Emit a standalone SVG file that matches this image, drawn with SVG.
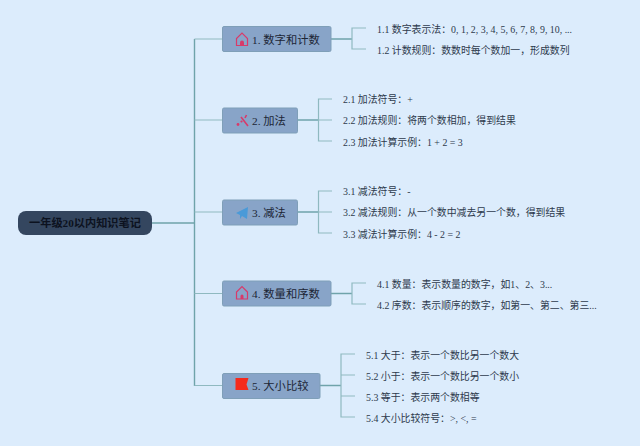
<svg xmlns="http://www.w3.org/2000/svg" width="640" height="446" viewBox="0 0 640 446">
<style>
text{font-family:"Liberation Serif","Noto Sans CJK SC",serif;fill:#2e3a4c;font-size:9.9px}
.m{font-size:11.300px;fill:#1c2636}
.r{font-size:11.200px;fill:#0c1220;font-weight:bold}
.n{fill:#88a4c8;stroke:#7f9fb8;stroke-width:1}
.c{fill:none;stroke:#8fb9c0;stroke-width:1.2}
.d{fill:none;stroke:#6fa3aa;stroke-width:1.4}
</style>
<rect width="640" height="446" fill="#dcecfc"/>
<g id="connectors">
<path class="d" d="M152 223H194.500"/>
<path class="d" d="M194.500 39V386"/>
<path class="c" d="M194.500 39H222M194.500 120H222M194.500 212H222M194.500 293.500H222M194.500 385.500H222"/>
<path class="d" d="M331 39H352M297 120H318.500M297 212H318.500M331 293.500H352M320 385.500H341"/>
<path class="c" d="M366 28H352V49H366"/>
<path class="c" d="M332 99H318.500V141H332M318.500 120H332"/>
<path class="c" d="M332 191H318.500V233H332M318.500 212H332"/>
<path class="c" d="M366 283H352V304H366"/>
<path class="c" d="M355 354H341V417H355M341 375H355M341 396H355"/>
</g>
<g id="root"><rect x="18" y="211" width="134" height="24" rx="8" fill="#34465f"/><text class="r" x="29" y="227">一年级20以内知识笔记</text></g>
<g id="node1"><rect class="n" x="222.500" y="26.500" width="108.500" height="25" rx="1.500"/>
<path d="M236.500 45.500V38.500L242 33L247.500 38.500V45.500H236.500Z" fill="none" stroke="#d83a6a" stroke-width="1.200"/><path d="M240 45.500V42.500A2 2 0 0 1 244 42.500V45.500Z" fill="#d83a6a"/>
<text class="m" x="252" y="44">1. 数字和计数</text></g>
<g id="node2"><rect class="n" x="222.500" y="108" width="75" height="25" rx="1.500"/>
<path d="M241 117L248 126M246.500 115L245 118" fill="none" stroke="#d83a6a" stroke-width="1.600"/><circle cx="238" cy="124.500" r="1.400" fill="#d83a6a"/><circle cx="241.500" cy="121.500" r="1.100" fill="#d83a6a"/>
<text class="m" x="252" y="125">2. 加法</text></g>
<g id="node3"><rect class="n" x="222.500" y="200" width="75" height="25" rx="1.500"/>
<path d="M236 213L248 207L247 219L242 216L240 219V215Z" fill="#4a9ad8"/>
<text class="m" x="252" y="217">3. 减法</text></g>
<g id="node4"><rect class="n" x="222.500" y="281" width="108.500" height="25" rx="1.500"/>
<path d="M236.500 299V292L242 286.500L247.500 292V299H236.500Z" fill="none" stroke="#d83a6a" stroke-width="1.200"/><path d="M240.500 299V296A1.500 1.500 0 0 1 243.500 296V299Z" fill="#d83a6a"/>
<text class="m" x="252" y="298">4. 数量和序数</text></g>
<g id="node5"><rect class="n" x="222.500" y="373.500" width="97.500" height="25" rx="1.500"/>
<path d="M235.500 378H248.500L246.500 384.500L248.500 390H235.500Z" fill="#f52a1c"/>
<text class="m" x="252" y="390">5. 大小比较</text></g>
<g id="leaf1"><text x="377" y="33">1.1 数字表示法：0, 1, 2, 3, 4, 5, 6, 7, 8, 9, 10, ...</text></g>
<g id="leaf2"><text x="377" y="54">1.2 计数规则：数数时每个数加一，形成数列</text></g>
<g id="leaf3"><text x="343" y="103">2.1 加法符号：+</text></g>
<g id="leaf4"><text x="343" y="124">2.2 加法规则：将两个数相加，得到结果</text></g>
<g id="leaf5"><text x="343" y="146">2.3 加法计算示例：1 + 2 = 3</text></g>
<g id="leaf6"><text x="343" y="195">3.1 减法符号：-</text></g>
<g id="leaf7"><text x="343" y="216">3.2 减法规则：从一个数中减去另一个数，得到结果</text></g>
<g id="leaf8"><text x="343" y="238">3.3 减法计算示例：4 - 2 = 2</text></g>
<g id="leaf9"><text x="377" y="288">4.1 数量：表示数量的数字，如1、2、3...</text></g>
<g id="leaf10"><text x="377" y="309">4.2 序数：表示顺序的数字，如第一、第二、第三...</text></g>
<g id="leaf11"><text x="366" y="359">5.1 大于：表示一个数比另一个数大</text></g>
<g id="leaf12"><text x="366" y="380">5.2 小于：表示一个数比另一个数小</text></g>
<g id="leaf13"><text x="366" y="401">5.3 等于：表示两个数相等</text></g>
<g id="leaf14"><text x="366" y="422">5.4 大小比较符号：&gt;, &lt;, =</text></g>
</svg>
